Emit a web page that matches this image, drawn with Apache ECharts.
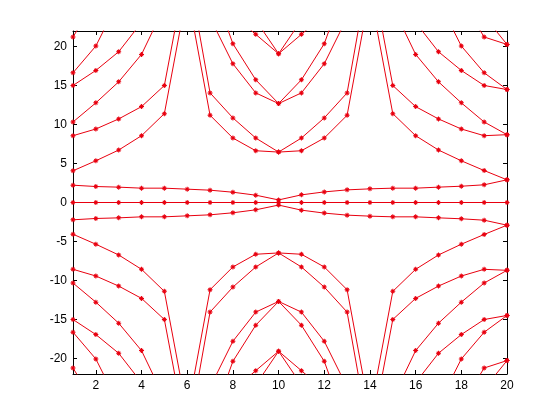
<!DOCTYPE html>
<html>
<head>
<meta charset="utf-8">
<script src="https://cdn.jsdelivr.net/npm/echarts@6/dist/echarts.min.js"></script>
<style>
  html, body { margin: 0; padding: 0; background: #fff; }
  #chart { width: 560px; height: 420px; }
</style>
</head>
<body>
<div id="chart"></div>
<script>
// x positions
var xValues = [1, 2, 3, 4, 5, 6, 7, 8, 9, 10, 11, 12, 13, 14, 15, 16, 17, 18, 19, 20];

// curves, upper half (values above 22 are off the plot, only set the slope)
var curve0 = [0, 0, 0, 0, 0, 0, 0, 0, 0, 0, 0, 0, 0, 0, 0, 0, 0, 0, 0, 0];
var curve1 = [2.22, 2.05, 1.97, 1.84, 1.84, 1.71, 1.58, 1.32, 0.94, 0.33, 0.98, 1.36, 1.62, 1.75, 1.84, 1.84, 1.97, 2.09, 2.27, 2.91];
var curve2 = [4.07, 5.35, 6.73, 8.57, 11.40, 27, 11.19, 8.27, 6.64, 6.47, 6.64, 8.27, 11.19, 27, 11.40, 8.57, 6.73, 5.35, 4.10, 2.91];
var curve3 = [8.57, 9.43, 10.72, 12.30, 15.01, 30.5, 14.06, 10.85, 8.27, 6.47, 8.27, 10.85, 14.06, 30.5, 15.01, 12.30, 10.72, 9.43, 8.57, 8.70];
var curve4 = [10.33, 12.78, 15.48, 19.0, 25.1, 35, 23.7, 17.80, 14.06, 12.69, 14.06, 17.80, 23.7, 35, 25.1, 19.0, 15.48, 12.78, 10.33, 8.70];
var curve5 = [15.01, 16.94, 19.34, 23.1, 30, 39, 28.5, 20.37, 15.74, 12.69, 15.74, 20.37, 28.5, 39, 30, 23.1, 19.34, 16.94, 15.01, 14.49];
var curve6 = [16.64, 20.07, 25.9, 29, 34, 43, 33, 24.1, 21.57, 19.08, 21.57, 24.1, 33, 43, 34, 29, 25.9, 20.07, 16.64, 14.49];
var curve7 = [21.23, 26, 31, 34, 38, 47, 37, 29, 23.4, 19.08, 23.4, 29, 37, 47, 38, 34, 31, 26, 21.23, 20.28];
var curve8 = [23.9, 30, 35, 38, 42, 50, 41, 33, 27, 25, 27, 33, 41, 50, 42, 38, 35, 30, 23.9, 20.28];

// lower half (mirror image in the picture)
var curve1n = [-2.22, -2.05, -1.97, -1.84, -1.84, -1.71, -1.58, -1.32, -0.94, -0.33, -0.98, -1.36, -1.62, -1.75, -1.84, -1.84, -1.97, -2.09, -2.27, -2.91];
var curve2n = [-4.07, -5.35, -6.73, -8.57, -11.40, -27, -11.19, -8.27, -6.64, -6.47, -6.64, -8.27, -11.19, -27, -11.40, -8.57, -6.73, -5.35, -4.10, -2.91];
var curve3n = [-8.57, -9.43, -10.72, -12.30, -15.01, -30.5, -14.06, -10.85, -8.27, -6.47, -8.27, -10.85, -14.06, -30.5, -15.01, -12.30, -10.72, -9.43, -8.57, -8.70];
var curve4n = [-10.33, -12.78, -15.48, -19.0, -25.1, -35, -23.7, -17.80, -14.06, -12.69, -14.06, -17.80, -23.7, -35, -25.1, -19.0, -15.48, -12.78, -10.33, -8.70];
var curve5n = [-15.01, -16.94, -19.34, -23.1, -30, -39, -28.5, -20.37, -15.74, -12.69, -15.74, -20.37, -28.5, -39, -30, -23.1, -19.34, -16.94, -15.01, -14.49];
var curve6n = [-16.64, -20.07, -25.9, -29, -34, -43, -33, -24.1, -21.57, -19.08, -21.57, -24.1, -33, -43, -34, -29, -25.9, -20.07, -16.64, -14.49];
var curve7n = [-21.23, -26, -31, -34, -38, -47, -37, -29, -23.4, -19.08, -23.4, -29, -37, -47, -38, -34, -31, -26, -21.23, -20.28];
var curve8n = [-23.9, -30, -35, -38, -42, -50, -41, -33, -27, -25, -27, -33, -41, -50, -42, -38, -35, -30, -23.9, -20.28];

// tick labels
var xTicks = [2, 4, 6, 8, 10, 12, 14, 16, 18, 20];
var yTicks = [-20, -15, -10, -5, 0, 5, 10, 15, 20];

var curves = [curve0, curve1, curve2, curve3, curve4, curve5, curve6, curve7, curve8,
  curve1n, curve2n, curve3n, curve4n, curve5n, curve6n, curve7n, curve8n];

// little asterisk marker like matlab '*'
var star = 'path://M4,0H6V10H4Z M0,4H10V6H0Z M1,2.4L2.4,1L9,7.6L7.6,9Z M7.6,1L9,2.4L2.4,9L1,7.6Z';
var red = '#e8000f';
var font = 'Liberation Sans, Arial, sans-serif';

var chart = echarts.init(document.getElementById('chart'), null, { renderer: 'canvas' });

function axisLook(showLabel, vals) {
  return {
    axisLine: { show: true, onZero: false, lineStyle: { color: '#000', width: 1 } },
    axisTick: { show: true, inside: true, length: 4, customValues: vals, lineStyle: { color: '#000' } },
    axisLabel: { show: showLabel, customValues: vals, color: '#000', fontSize: 12, fontFamily: font, margin: 6 },
    splitLine: { show: false }
  };
}

var series = curves.map(function (c) {
  return {
    type: 'line',
    data: xValues.map(function (x, i) { return [x, c[i]]; }),
    xAxisIndex: 0,
    yAxisIndex: 0,
    clip: true,
    symbol: star,
    symbolSize: 5,
    showSymbol: true,
    itemStyle: { color: red },
    lineStyle: { color: red, width: 1 },
    silent: true
  };
});

chart.setOption({
  animation: false,
  backgroundColor: '#fff',
  grid: { left: 73, right: 53, top: 31, bottom: 46 },
  xAxis: [
    Object.assign({ type: 'value', min: 1, max: 20, position: 'bottom' }, axisLook(true, xTicks)),
    Object.assign({ type: 'value', min: 1, max: 20, position: 'top' }, axisLook(false, xTicks))
  ],
  yAxis: [
    Object.assign({ type: 'value', min: -22, max: 22, position: 'left' }, axisLook(true, yTicks)),
    Object.assign({ type: 'value', min: -22, max: 22, position: 'right' }, axisLook(false, yTicks))
  ],
  series: series
});
</script>
</body>
</html>
